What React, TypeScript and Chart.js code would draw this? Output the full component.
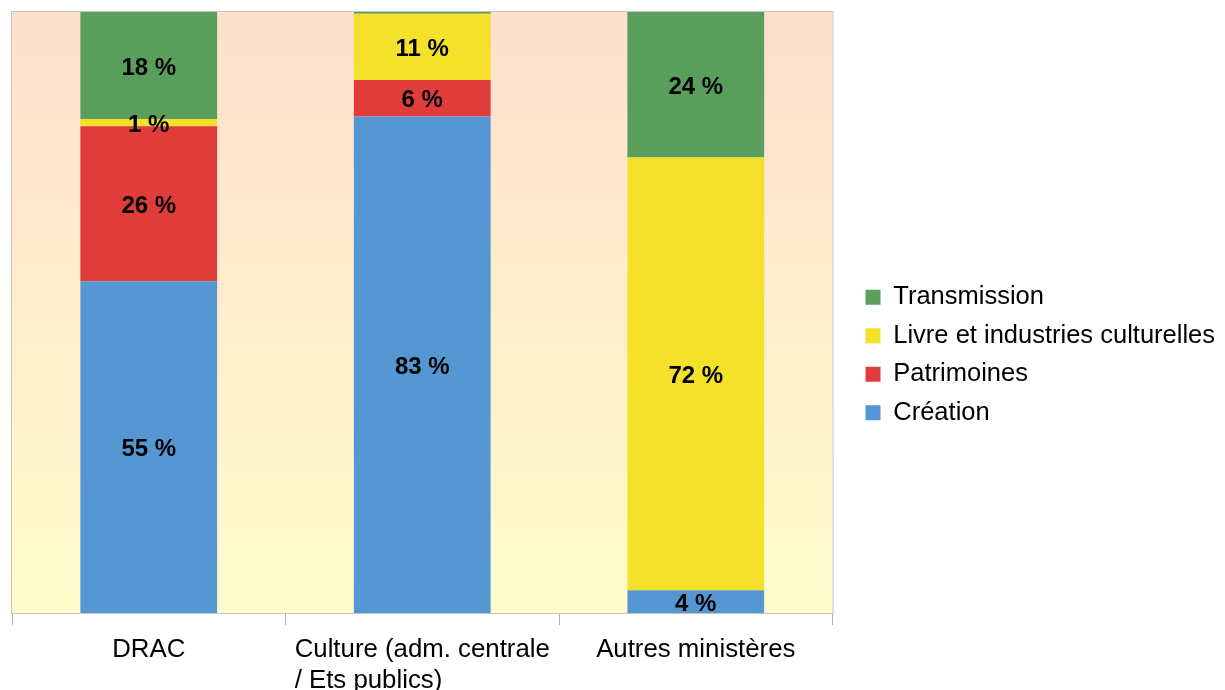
import React, { useEffect, useRef } from "react";
import { Chart, registerables } from "chart.js";

Chart.register(...registerables);

// ---- Data ----
const categories: string[][] = [
  ["DRAC"],
  ["Culture (adm. centrale", "/ Ets publics)"],
  ["Autres ministères"],
];
const creation = [55.2, 82.6, 3.8];
const patrimoines = [25.8, 6.1, 0];
const livre = [1.2, 11.0, 72.0];
const transmission = [17.8, 0.3, 24.2];

const seriesNames = ["Création", "Patrimoines", "Livre et industries culturelles", "Transmission"];
const seriesColors = ["#5597d3", "#df3c3a", "#f4e12a", "#5a9e5b"];

const FONT = "'Liberation Sans', Arial, sans-serif";

const bgPlugin = {
  id: "bgGradient",
  beforeDraw(chart: any) {
    const { ctx, chartArea: a } = chart;
    ctx.save();
    const g = ctx.createLinearGradient(0, a.top, 0, a.bottom);
    g.addColorStop(0, "#fee0cc");
    g.addColorStop(1, "#fffccb");
    ctx.fillStyle = g;
    ctx.fillRect(a.left, a.top, a.right - a.left, a.bottom - a.top);
    ctx.restore();
  },
  beforeDatasetsDraw(chart: any) {
    const { ctx, chartArea: a } = chart;
    ctx.save();
    ctx.strokeStyle = "#c8c4c0";
    ctx.lineWidth = 1;
    ctx.strokeRect(a.left - 0.5, a.top - 0.5, a.right - a.left + 1, a.bottom - a.top + 1);
    ctx.restore();
  },
};

const valueLabelPlugin = {
  id: "valueLabels",
  afterDatasetsDraw(chart: any) {
    const ctx = chart.ctx;
    ctx.save();
    ctx.font = `bold 24px ${FONT}`;
    ctx.fillStyle = "#000";
    ctx.textAlign = "center";
    ctx.textBaseline = "middle";
    chart.data.datasets.forEach((ds: any, di: number) => {
      const meta = chart.getDatasetMeta(di);
      meta.data.forEach((el: any, i: number) => {
        const v = ds.data[i];
        if (v < 0.5) return;
        const p = el.getProps(["x", "y", "base"], true);
        ctx.fillText(`${Math.round(v)} %`, p.x, (p.y + p.base) / 2 + 2.5);
      });
    });
    ctx.restore();
  },
};

const xLabelPlugin = {
  id: "xLabels",
  afterDraw(chart: any) {
    const ctx = chart.ctx;
    const xs = chart.scales.x;
    ctx.save();
    ctx.font = `25.8px ${FONT}`;
    ctx.fillStyle = "#000";
    ctx.textAlign = "left";
    ctx.textBaseline = "alphabetic";
    categories.forEach((lines, i) => {
      const cx = xs.getPixelForValue(i);
      const w0 = ctx.measureText(lines[0]).width;
      const left = cx - w0 / 2;
      lines.forEach((t, j) => {
        ctx.fillText(t, left, xs.top + 44 + j * 31);
      });
    });
    ctx.restore();
  },
};

export default function App() {
  const ref = useRef<HTMLCanvasElement | null>(null);

  useEffect(() => {
    document.body.style.margin = "0";
    const seriesData = [creation, patrimoines, livre, transmission];
    const chart = new Chart(ref.current as HTMLCanvasElement, {
      type: "bar",
      data: {
        labels: categories,
        datasets: seriesNames.map((name, k) => ({
          label: name,
          data: seriesData[k],
          backgroundColor: seriesColors[k],
          borderWidth: 0,
          categoryPercentage: 0.5,
          barPercentage: 1,
        })),
      },
      options: {
        animation: false,
        responsive: true,
        maintainAspectRatio: false,
        layout: { padding: { top: 12, left: 12, right: 0, bottom: 0 } },
        plugins: {
          tooltip: { enabled: false },
          legend: {
            position: "right",
            reverse: true,
            maxWidth: 600,
            title: { display: true, text: "", padding: 1, font: { size: 5 } },
            labels: {
              boxWidth: 15,
              boxHeight: 15,
              padding: 13,
              color: "#000",
              font: { size: 25.5, family: FONT },
            },
          },
        },
        scales: {
          x: {
            stacked: true,
            grid: {
              offset: true,
              drawOnChartArea: false,
              drawTicks: true,
              tickLength: 12,
              color: "#b3b3b3",
            },
            border: { color: "#b3b3b3" },
            ticks: { display: false },
            afterFit: (s: any) => {
              s.height = 77;
            },
          },
          y: {
            stacked: true,
            min: 0,
            max: 100,
            position: "right",
            ticks: { display: false },
            grid: { display: false },
            border: { display: false },
            afterFit: (s: any) => {
              s.width = 20;
            },
          },
        },
      } as any,
      plugins: [bgPlugin, valueLabelPlugin, xLabelPlugin],
    });
    return () => chart.destroy();
  }, []);

  return (
    <div style={{ position: "absolute", left: 0, top: 0, width: 1225, height: 690 }}>
      <canvas ref={ref} />
    </div>
  );
}
